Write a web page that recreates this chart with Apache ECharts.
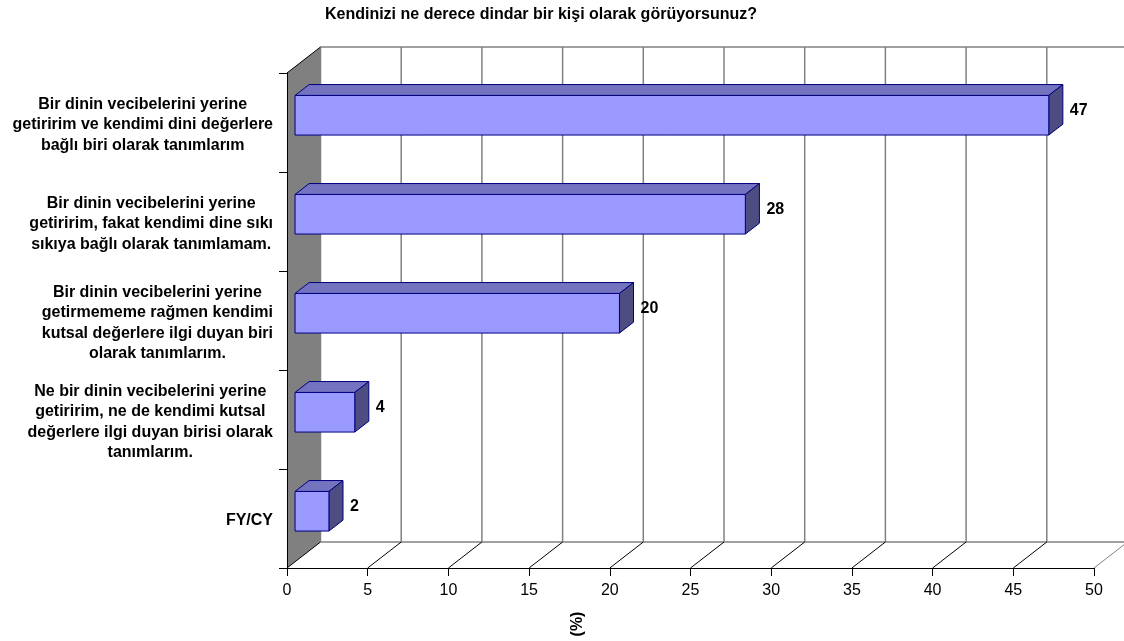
<!DOCTYPE html>
<html>
<head>
<meta charset="utf-8">
<script src="https://cdn.jsdelivr.net/npm/echarts@6/dist/echarts.min.js"></script>
<style>html,body{margin:0;padding:0;background:#fff}#c{width:1124px;height:641px}</style>
</head>
<body>
<div id="c"></div>
<script>
const titleText = 'Kendinizi ne derece dindar bir kişi olarak görüyorsunuz?';
const axisTitle = '(%)';
const categories = [
  'Bir dinin vecibelerini yerine\ngetiririm ve kendimi dini değerlere\nbağlı biri olarak tanımlarım',
  'Bir dinin vecibelerini yerine\ngetiririm, fakat kendimi dine sıkı\nsıkıya bağlı olarak tanımlamam.',
  'Bir dinin vecibelerini yerine\ngetirmememe rağmen kendimi\nkutsal değerlere ilgi duyan biri\nolarak tanımlarım.',
  'Ne bir dinin vecibelerini yerine\ngetiririm, ne de kendimi kutsal\ndeğerlere ilgi duyan birisi olarak\ntanımlarım.',
  'FY/CY'
];
const values = [46.7, 27.9, 20.1, 3.7, 2.1];
const xMin = 0, xMax = 50, xStep = 5;

const FONT = 'Liberation Sans, Arial, sans-serif';
const DX = 33.5, DY = -26;      // depth offset of back wall
const F0 = 0.24, F1 = 0.66;     // bar depth range (fraction)
const LABEL_GAP = 14;           // gap between label block and axis

const mctx = document.createElement('canvas').getContext('2d');
mctx.font = 'bold 16px ' + FONT;
function blockWidth(s) {
  return Math.max.apply(null, s.split('\n').map(l => mctx.measureText(l).width));
}

const chart = echarts.init(document.getElementById('c'), null, {renderer: 'canvas'});

function wallsRender(params, api) {
  const cs = params.coordSys;
  const L = cs.x, T = cs.y, R = cs.x + cs.width, B = cs.y + cs.height;
  const ch = [];
  const grey = '#808080';
  ch.push({type: 'polygon', shape: {points: [[L, T], [L + DX, T + DY], [L + DX, B + DY], [L, B]]},
    style: {fill: '#808080', stroke: null}});
  for (let v = xMin; v <= xMax; v += xStep) {
    const x = api.coord([v, 0])[0];
    ch.push({type: 'line', shape: {x1: x + DX, y1: T + DY, x2: x + DX, y2: B + DY},
      style: {stroke: grey, lineWidth: 1.5}});
  }
  ch.push({type: 'line', shape: {x1: L + DX, y1: T + DY, x2: R + DX, y2: T + DY}, style: {stroke: grey, lineWidth: 1.5}});
  ch.push({type: 'line', shape: {x1: L + DX, y1: B + DY, x2: R + DX, y2: B + DY}, style: {stroke: grey, lineWidth: 1.5}});
  for (let v = xMin; v <= xMax; v += xStep) {
    const x = api.coord([v, 0])[0];
    ch.push({type: 'line', shape: {x1: x, y1: B, x2: x + DX, y2: B + DY},
      style: {stroke: v === xMax ? grey : '#000', lineWidth: 1}});
  }
  ch.push({type: 'line', shape: {x1: L, y1: T, x2: L + DX, y2: T + DY}, style: {stroke: '#000', lineWidth: 1}});
  return {type: 'group', children: ch};
}

function catLabelRender(params, api) {
  const idx = api.value(1);
  const c = api.coord([0, idx]);
  const text = categories[idx];
  const w = blockWidth(text);
  return {type: 'text', x: c[0] - LABEL_GAP - w / 2, y: c[1] + 2.5,
    style: {text: text, fill: '#000', fontSize: 16, fontWeight: 'bold', fontFamily: FONT,
      lineHeight: 20.5, align: 'center', verticalAlign: 'middle'}};
}

function barRender(params, api) {
  const idx = api.value(1);
  const val = api.value(0);
  const c0 = api.coord([0, idx]);
  const c1 = api.coord([val, idx]);
  const band = api.size([0, 1])[1];
  const h = band * 0.4;
  const x0 = c0[0] + F0 * DX, x1 = c1[0] + F0 * DX;
  const yT = c0[1] - h / 2 + F0 * DY - 1, yB = yT + h;
  const ddx = (F1 - F0) * DX, ddy = (F1 - F0) * DY;
  const stroke = '#000080';
  return {type: 'group', children: [
    {type: 'polygon', shape: {points: [[x0, yT], [x1, yT], [x1 + ddx, yT + ddy], [x0 + ddx, yT + ddy]]},
      style: {fill: '#7373C0', stroke: stroke, lineWidth: 1}},
    {type: 'polygon', shape: {points: [[x1, yT], [x1 + ddx, yT + ddy], [x1 + ddx, yB + ddy], [x1, yB]]},
      style: {fill: '#4D4D82', stroke: stroke, lineWidth: 1}},
    {type: 'rect', shape: {x: x0, y: yT, width: x1 - x0, height: h},
      style: {fill: '#9999FF', stroke: stroke, lineWidth: 1}},
    {type: 'text', x: x1 + ddx + 7, y: (yT + yB) / 2 - 5,
      style: {text: String(Math.round(val)), fill: '#000', fontSize: 16, fontWeight: 'bold', fontFamily: FONT,
        align: 'left', verticalAlign: 'middle'}}
  ]};
}

chart.setOption({
  animation: false,
  backgroundColor: '#fff',
  textStyle: {fontFamily: FONT},
  graphic: [
    {type: 'text', x: 541, y: 15,
      style: {text: titleText, fill: '#000', fontSize: 16, fontWeight: 'bold', fontFamily: FONT,
        align: 'center', verticalAlign: 'middle'}},
    {type: 'text', x: 578, y: 624, rotation: Math.PI / 2,
      style: {text: axisTitle, fill: '#000', fontSize: 16, fontWeight: 'bold', fontFamily: FONT,
        align: 'center', verticalAlign: 'middle'}}
  ],
  grid: {left: 287, top: 73, width: 807, height: 495, containLabel: false, outerBoundsMode: 'none'},
  xAxis: {type: 'value', min: xMin, max: xMax, interval: xStep, z: 10,
    splitLine: {show: false},
    axisLine: {show: true, lineStyle: {color: '#000', width: 1}},
    axisTick: {show: true, length: 8, lineStyle: {color: '#000'}},
    axisLabel: {fontSize: 16, color: '#000', margin: 15, fontFamily: FONT}},
  yAxis: {type: 'category', data: categories, inverse: true, z: 10,
    splitLine: {show: false},
    axisLine: {show: true, lineStyle: {color: '#000', width: 1}},
    axisTick: {show: true, length: 8, lineStyle: {color: '#000'}},
    axisLabel: {show: false}},
  series: [
    {type: 'custom', name: 'walls', silent: true, clip: false, z: 1,
      data: [[0, 0]], encode: {x: 0, y: 1}, renderItem: wallsRender},
    {type: 'custom', name: 'categoryLabels', silent: true, clip: false, z: 3,
      data: categories.map((c, i) => [0, i]), encode: {x: 0, y: 1}, renderItem: catLabelRender},
    {type: 'custom', name: 'bars', silent: true, clip: false, z: 3,
      data: values.map((v, i) => [v, i]), encode: {x: 0, y: 1}, renderItem: barRender}
  ]
});
</script>
</body>
</html>
